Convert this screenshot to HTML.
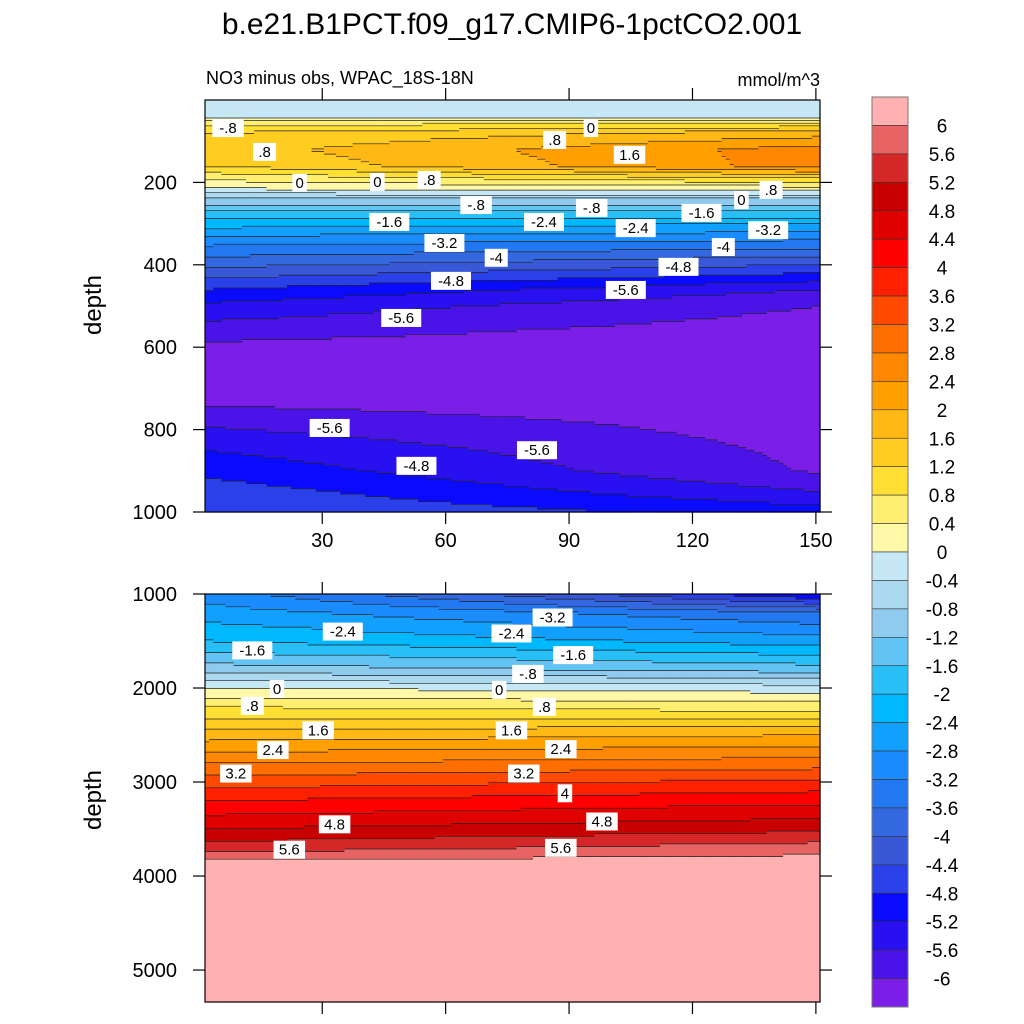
<!DOCTYPE html>
<html><head><meta charset="utf-8">
<style>
body{margin:0;background:#fff;}
svg{display:block;font-family:"Liberation Sans",Arial,sans-serif;}
</style></head>
<body>
<svg id="chart" width="1024" height="1024" viewBox="0 0 1024 1024" xmlns="http://www.w3.org/2000/svg">
<text x="512" y="34" text-anchor="middle" font-size="30">b.e21.B1PCT.f09_g17.CMIP6-1pctCO2.001</text>
<text x="206" y="84" font-size="18">NO3 minus obs, WPAC_18S-18N</text>
<text x="820" y="86" text-anchor="end" font-size="18">mmol/m^3</text>
<text transform="translate(101,305) rotate(-90)" text-anchor="middle" font-size="24">depth</text>
<text transform="translate(101,800) rotate(-90)" text-anchor="middle" font-size="24">depth</text>
<g id="top"></g>
<g id="bot"></g>
<g id="cbar"></g>
</svg>
<script>
const years=[1.5,151];
const topDepths=[0,40,55,80,120,160,190,215,240,270,300,340,380,420,460,500,560,600,730,780,850,900,950,1000];
const topStart=[-0.3,-0.2,0.6,1.2,1.4,1.2,0.5,0.0,-0.8,-1.6,-2.2,-3.0,-3.6,-4.2,-4.8,-5.3,-5.8,-6.1,-6.1,-5.7,-5.2,-4.9,-4.6,-4.4];
const topEnd=[-0.3,-0.2,0.8,1.8,2.6,2.6,1.2,0.2,-0.8,-1.6,-2.4,-3.2,-4.0,-4.8,-5.6,-6.0,-6.2,-6.3,-6.3,-6.2,-6.1,-6.05,-5.6,-5.0];
const botDepths=[1000,1200,1500,1800,2000,2200,2500,2800,3000,3200,3500,3700,3850,4000,5350];
const botStart=[-3.0,-2.6,-2.0,-1.0,0.0,0.8,1.8,2.8,3.4,4.0,4.8,5.4,6.1,6.2,6.2];
const botEnd=[-5.2,-3.6,-2.6,-1.4,-0.2,0.6,2.0,3.0,3.7,4.3,5.1,5.8,6.2,6.2,6.2];
const cbLabels=["6","5.6","5.2","4.8","4.4","4","3.6","3.2","2.8","2.4","2","1.6","1.2","0.8","0.4","0","-0.4","-0.8","-1.2","-1.6","-2","-2.4","-2.8","-3.2","-3.6","-4","-4.4","-4.8","-5.2","-5.6","-6"];
const colorsTopDown=["#ffb0b0","#e86464","#d42828","#c80000","#e00000","#ff0000","#ff2000","#ff4a00","#ff6e00","#ff8800","#ffa000","#ffb814","#ffcc22","#ffdf33","#ffef70","#fff8a8","#c6e8f6","#aad9f0","#8ecbee","#62c4f4","#28bff8","#00b8ff","#12a0ff","#1a8cff","#2278f0","#3468e0","#3858d8","#2a40e8","#0a0aff","#2810f0","#4a14e8","#7a1ee8"];
const topXTicks=[30,60,90,120,150];
const topYTicks=[200,400,600,800,1000];
const botYTicks=[1000,2000,3000,4000,5000];
const topLabels=[["-.8",7.1,68],[".8",16,126],["0",24.5,201],["0",43.4,199],[".8",56,194],["-1.6",46.3,296],["-.8",67.4,255],["-2.4",83.9,296],["-.8",95.5,262],["-2.4",106.2,311],["-1.6",122.2,274],["0",131.9,243],[".8",139.1,218],["-3.2",138.4,316],["-4",127.5,357],["-3.2",59.7,347],["-4",72.3,383],["-4.8",61.3,439],["-4.8",116.6,405],["-5.6",103.8,461],["-5.6",49.2,529],[".8",86.5,97],["0",95.3,68],["1.6",104.7,133],["-5.6",31.8,796],["-5.6",82.2,850],["-4.8",52.9,888]];
const botLabels=[["-1.6",13,1600],["-2.4",35,1400],["-2.4",76,1420],["-3.2",86,1250],["-1.6",91,1650],["-.8",80,1850],["0",19,2010],["0",73,2020],[".8",13,2190],[".8",84,2200],["1.6",29,2450],["1.6",76,2450],["2.4",18,2660],["2.4",88,2650],["3.2",9,2910],["3.2",79,2910],["4",89,3120],["4.8",33,3450],["4.8",98,3420],["5.6",22,3720],["5.6",88,3700]];

const NS="http://www.w3.org/2000/svg";
function mk(tag,attrs,parent){const e=document.createElementNS(NS,tag);for(const k in attrs)e.setAttribute(k,attrs[k]);parent.appendChild(e);return e;}
const X0=205,X1=820;
function xScale(y){return X0+(y-years[0])/(years[1]-years[0])*(X1-X0);}
function interp(ds,vs,d){if(d<=ds[0])return vs[0];for(let i=1;i<ds.length;i++){if(d<=ds[i]){const t=(d-ds[i-1])/(ds[i]-ds[i-1]);return vs[i-1]+t*(vs[i]-vs[i-1]);}}return vs[vs.length-1];}
function bin(v){let k=Math.floor((v+6)/0.4)+1;return Math.max(0,Math.min(31,k));}
function colorFor(k){return colorsTopDown[31-k];}

function panel(g,y0,y1,d0,d1,ds,vs0,vs1,yTicks,xLabels,labels,nm){
  const ys=d=>y0+(d-d0)/(d1-d0)*(y1-y0);
  const nc=150,nr=160;
  const cw=(X1-X0)/nc,rh=(y1-y0)/nr;
  const bins=[];
  for(let i=0;i<nc;i++){const yr=years[0]+(i+0.5)/nc*(years[1]-years[0]);const t=(yr-years[0])/(years[1]-years[0]);const col=[];
    for(let j=0;j<nr;j++){const d=d0+(j+0.5)/nr*(d1-d0);const v=interp(ds,vs0,d)*(1-t)+interp(ds,vs1,d)*t;col.push(bin(v));}
    bins.push(col);}
  const cells=mk('g',{},g);
  
  
  for(let i=0;i<nc;i++){let j=0;while(j<nr){let k=j;while(k+1<nr&&bins[i][k+1]===bins[i][j])k++;
    const r=mk('rect',{x:(X0+i*cw).toFixed(2),y:(y0+j*rh).toFixed(2),width:(cw+0.6).toFixed(2),height:((k-j+1)*rh+0.6).toFixed(2),fill:colorFor(bins[i][j])},cells);
    
    
    j=k+1;}}
  let path='';
  for(let i=0;i<nc;i++)for(let j=0;j<nr-1;j++)if(bins[i][j]!==bins[i][j+1]){const yy=y0+(j+1)*rh;path+=`M${(X0+i*cw).toFixed(1)} ${yy.toFixed(1)}h${cw.toFixed(2)}`;}
  const cl=mk('path',{d:path,stroke:'#222',fill:'none','stroke-width':0.7},g);
  
  
  labels.forEach(l=>{const x=xScale(l[1]),y=ys(l[2]);const w=l[0].length*8.5+6;
    const lg=mk('g',{},g);
    
    
    mk('rect',{x:x-w/2,y:y-9,width:w,height:18,fill:'#fff'},lg);
    const t=mk('text',{x:x,y:y+5,'text-anchor':'middle','font-size':15},lg);t.textContent=l[0];});
  const fr=mk('rect',{x:X0,y:y0,width:X1-X0,height:y1-y0,fill:'none',stroke:'#000','stroke-width':1.2},g);
  
  
  yTicks.forEach(d=>{const y=ys(d);if(y<y0-1||y>y1+1)return;
    mk('line',{x1:X0,x2:X0-12,y1:y,y2:y,stroke:'#000','stroke-width':1.2},g);
    mk('line',{x1:X1,x2:X1+12,y1:y,y2:y,stroke:'#000','stroke-width':1.2},g);
    const t=mk('text',{x:X0-28,y:y+7,'text-anchor':'end','font-size':20},g);
    
    
    t.textContent=d;});
  topXTicks.forEach(v=>{const x=xScale(v);
    mk('line',{x1:x,x2:x,y1:y1,y2:y1+12,stroke:'#000','stroke-width':1.2},g);
    mk('line',{x1:x,x2:x,y1:y0,y2:y0-12,stroke:'#000','stroke-width':1.2},g);
    if(xLabels){const t=mk('text',{x:x,y:y1+35,'text-anchor':'middle','font-size':20},g);
      
      
      t.textContent=v;}});
}
panel(document.getElementById('top'),100,512,0,1000,topDepths,topStart,topEnd,topYTicks,true,topLabels,'top');
panel(document.getElementById('bot'),594,1002,1000,5340,botDepths,botStart,botEnd,botYTicks,false,botLabels,'bottom');

const cb=document.getElementById('cbar');
const cy0=97,cy1=1007,bh=(cy1-cy0)/32;
colorsTopDown.forEach((c,i)=>{const r=mk('rect',{x:872,y:cy0+i*bh,width:36,height:bh,fill:c,stroke:'#333','stroke-width':0.6},cb);
  
  });
mk('rect',{x:872,y:cy0,width:36,height:cy1-cy0,fill:'none',stroke:'#777','stroke-width':1},cb);
cbLabels.forEach((l,i)=>{const t=mk('text',{x:942,y:cy0+(i+1)*bh+7,'text-anchor':'middle','font-size':19},cb);
  
  
  t.textContent=l;});
</script>
</body></html>
